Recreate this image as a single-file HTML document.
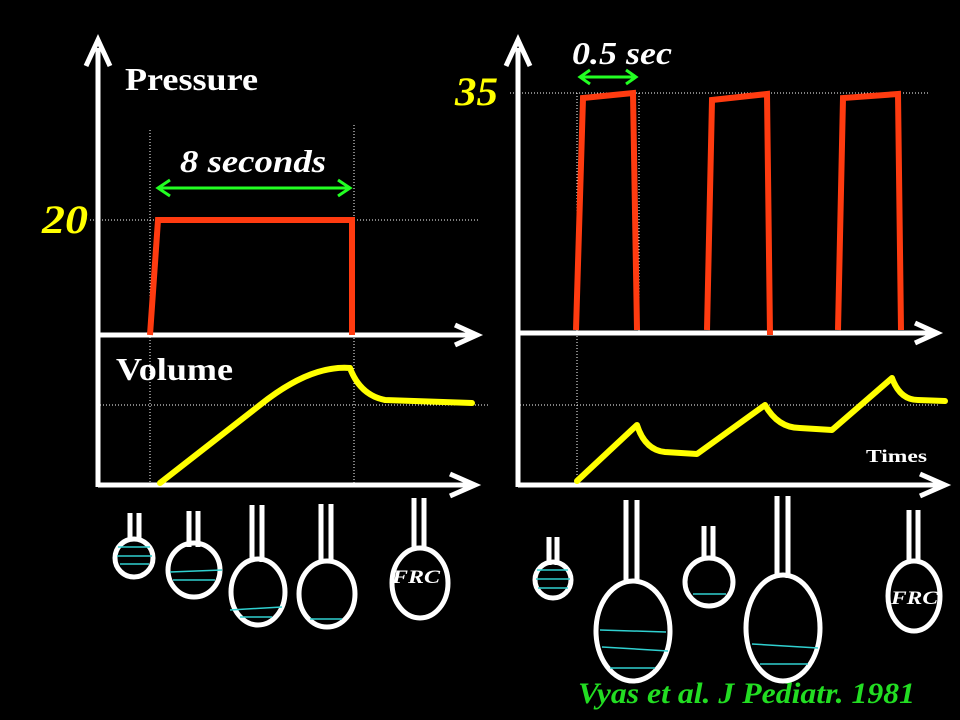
<!DOCTYPE html><html><head><style>body{margin:0;background:#000}svg{display:block}text{font-family:"Liberation Serif",serif;font-weight:bold}</style></head><body>
<svg width="960" height="720" viewBox="0 0 960 720">
<g stroke="#fff" stroke-width="5" fill="none">
<line x1="98" y1="487" x2="98" y2="48"/><polyline points="86,66 98,40 110,66"/>
<line x1="98" y1="335" x2="472" y2="335"/><polyline points="455,325 477,335 455,345"/>
<line x1="98" y1="485" x2="470" y2="485"/><polyline points="450,474 475,485 450,496"/>
<line x1="518" y1="487" x2="518" y2="48"/><polyline points="506,66 518,40 530,66"/>
<line x1="518" y1="333" x2="932" y2="333"/><polyline points="915,323 937,333 915,343"/>
<line x1="518" y1="485" x2="940" y2="485"/><polyline points="920,474 945,485 920,496"/>
</g>
<g stroke="#fff" stroke-width="1" stroke-dasharray="1,2">
<line x1="90" y1="220" x2="480" y2="220"/><line x1="100" y1="405" x2="488" y2="405"/>
<line x1="150" y1="130" x2="150" y2="485"/><line x1="354" y1="125" x2="354" y2="485"/>
<line x1="510" y1="93" x2="928" y2="93"/><line x1="520" y1="405" x2="940" y2="405"/>
<line x1="577" y1="93" x2="577" y2="485"/><line x1="639" y1="93" x2="639" y2="335"/>
</g>
<g stroke="#ff3b10" stroke-width="6" fill="none" stroke-linejoin="miter">
<polyline points="150,335 158,220 352,220 352,335"/>
<polyline points="576,330 583,98 633,93 637,330"/>
<polyline points="707,330 712,100 767,94 770,335"/>
<polyline points="838,330 843,98 898,94 901,330"/>
</g>
<g stroke="#ffff00" stroke-width="6" fill="none" stroke-linecap="round" stroke-linejoin="round">
<path d="M160,483 L260,405 Q310,365 350,368 Q360,395 385,400 L472,403"/>
<path d="M577,481 L637,425 Q645,450 665,452 L697,454 L765,405 Q778,428 800,428 L832,430 L892,378 Q900,400 918,400 L945,401"/>
</g>
<g stroke="#22ff22" stroke-width="3" fill="none">
<line x1="158" y1="188" x2="350" y2="188"/><polyline points="170,180 158,188 170,196"/><polyline points="338,180 350,188 338,196"/>
<line x1="580" y1="77" x2="636" y2="77"/><polyline points="590,70 580,77 590,84"/><polyline points="626,70 636,77 626,84"/>
</g>
<g fill="#fff" lengthAdjust="spacingAndGlyphs">
<text x="125" y="90" font-size="32" textLength="133" lengthAdjust="spacingAndGlyphs">Pressure</text>
<text x="116" y="380" font-size="32" textLength="117" lengthAdjust="spacingAndGlyphs">Volume</text>
<text x="866" y="462" font-size="18" textLength="61" lengthAdjust="spacingAndGlyphs">Times</text>
<text x="392" y="583" font-size="19" font-style="italic" textLength="48" lengthAdjust="spacingAndGlyphs">FRC</text>
<text x="891" y="604" font-size="19" font-style="italic" textLength="47" lengthAdjust="spacingAndGlyphs">FRC</text>
<text x="180" y="172" font-size="32" font-style="italic" textLength="146" lengthAdjust="spacingAndGlyphs">8 seconds</text>
<text x="572" y="64" font-size="32" font-style="italic" textLength="100" lengthAdjust="spacingAndGlyphs">0.5 sec</text></g>
<g fill="#ffff00" font-style="italic">
<text x="42" y="233" font-size="40" font-style="italic" textLength="46" lengthAdjust="spacingAndGlyphs">20</text>
<text x="455" y="105" font-size="40" font-style="italic" textLength="43" lengthAdjust="spacingAndGlyphs">35</text></g>
<text x="578" y="703" font-size="30" font-style="italic" fill="#22dd22" textLength="337" lengthAdjust="spacingAndGlyphs">Vyas et al. J Pediatr. 1981</text>
<g stroke="#fff" stroke-width="5" fill="none">
<path d="M130,513V540M139,513V540"/><circle cx="134" cy="558" r="19"/>
<path d="M189,511V547M198,511V547"/><ellipse cx="194" cy="570" rx="26" ry="27"/>
<path d="M252,505V562M262,505V562"/><ellipse cx="258" cy="592" rx="27" ry="33"/>
<path d="M321,504V562M331,504V562"/><ellipse cx="327" cy="594" rx="28" ry="33"/>
<path d="M414,498V550M424,498V550"/><ellipse cx="420" cy="583" rx="28" ry="35"/>
<path d="M549,537V565M557,537V565"/><circle cx="553" cy="580" r="18"/>
<path d="M626,500V582M637,500V582"/><ellipse cx="633" cy="631" rx="37" ry="50"/>
<path d="M704,526V560M713,526V560"/><circle cx="709" cy="582" r="24"/>
<path d="M777,496V578M788,496V578"/><ellipse cx="783" cy="628" rx="37" ry="53"/>
<path d="M909,510V562M918,510V562"/><ellipse cx="914" cy="596" rx="26" ry="35"/>
</g>
<g stroke="#30d0d0" stroke-width="1.5">
<line x1="118" y1="547" x2="150" y2="547"/><line x1="117" y1="556" x2="152" y2="556"/><line x1="120" y1="564" x2="149" y2="564"/>
<line x1="170" y1="572" x2="222" y2="570"/><line x1="173" y1="580" x2="215" y2="580"/>
<line x1="230" y1="610" x2="282" y2="607"/><line x1="240" y1="617" x2="272" y2="617"/>
<line x1="310" y1="619" x2="342" y2="619"/>
<line x1="537" y1="570" x2="568" y2="570"/><line x1="536" y1="579" x2="570" y2="579"/><line x1="538" y1="588" x2="568" y2="588"/>
<line x1="600" y1="630" x2="666" y2="632"/><line x1="602" y1="647" x2="668" y2="651"/><line x1="610" y1="668" x2="655" y2="668"/>
<line x1="693" y1="594" x2="726" y2="594"/>
<line x1="752" y1="644" x2="818" y2="648"/><line x1="760" y1="664" x2="808" y2="664"/>
</g>
</svg></body></html>
